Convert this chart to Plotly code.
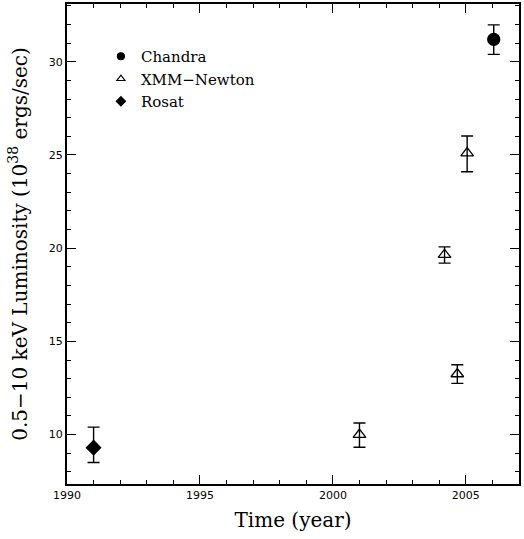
import plotly.graph_objects as go

# Data
chandra_year = [2006.05]
chandra_lum = [31.2]
chandra_err_plus = [0.78]
chandra_err_minus = [0.8]

xmm_year = [2001.0, 2004.2, 2004.68, 2005.05]
xmm_lum = [10.0, 19.65, 13.25, 25.1]
xmm_err_plus = [0.62, 0.42, 0.5, 0.92]
xmm_err_minus = [0.68, 0.45, 0.5, 1.0]

rosat_year = [1991.0]
rosat_lum = [9.3]
rosat_err_plus = [1.1]
rosat_err_minus = [0.8]

x_ticks = [1990, 1995, 2000, 2005]
y_ticks = [10, 15, 20, 25, 30]

title_font = "DejaVu Serif"
sans = "DejaVu Sans"

fig = go.Figure()

def data_trace(x, y, ep, em, symbol, size, fill):
    return go.Scatter(
        x=x, y=y, mode="markers", showlegend=False,
        marker=dict(symbol=symbol, size=size, color=fill,
                    line=dict(color="black", width=1.3)),
        error_y=dict(type="data", symmetric=False, array=ep, arrayminus=em,
                     color="black", thickness=1.4, width=6),
    )

fig.add_trace(data_trace(chandra_year, chandra_lum, chandra_err_plus, chandra_err_minus,
                         "circle", 12, "black"))
fig.add_trace(data_trace(xmm_year, xmm_lum, xmm_err_plus, xmm_err_minus,
                         "triangle-up-open", 11, "black"))
fig.add_trace(data_trace(rosat_year, rosat_lum, rosat_err_plus, rosat_err_minus,
                         "diamond", 11, "black"))

# legend-only entries with small symbols
for name, sym in [("Chandra", "circle"), ("XMM\u2212Newton", "triangle-up-open"), ("Rosat", "diamond")]:
    fig.add_trace(go.Scatter(x=[None], y=[None], mode="markers", name=name,
                             marker=dict(symbol=sym, size=7, color="black",
                                         line=dict(color="black", width=1.2))))

axis_common = dict(
    showgrid=False, zeroline=False, showline=True, linecolor="black", linewidth=2,
    mirror="allticks", ticks="inside", ticklen=9, tickwidth=1.3, tickcolor="black",
    tickfont=dict(family=sans, size=11, color="black"),
)

fig.update_xaxes(
    range=[1990, 2007], tickvals=x_ticks, ticktext=[str(v) for v in x_ticks],
    minor=dict(dtick=1, tick0=1990, ticks="inside", ticklen=4, tickwidth=1.1, tickcolor="black"),
    title=dict(text="Time (year)", font=dict(family=title_font, size=20, color="black"), standoff=12),
    **axis_common,
)
fig.update_yaxes(
    range=[7.35, 33.1], tickvals=y_ticks, ticktext=[str(v) for v in y_ticks],
    minor=dict(dtick=1, tick0=0, ticks="inside", ticklen=4, tickwidth=1.1, tickcolor="black"),
    title=dict(text="0.5\u221210 keV Luminosity (10<sup>38</sup> ergs/sec)",
               font=dict(family=title_font, size=20, color="black"), standoff=16),
    **axis_common,
)

fig.update_layout(
    width=524, height=539,
    margin=dict(l=67, r=5, t=2, b=55),
    paper_bgcolor="white", plot_bgcolor="white",
    legend=dict(x=0.075, y=0.925, xanchor="left", yanchor="top",
                font=dict(family=title_font, size=15, color="black"),
                bgcolor="rgba(0,0,0,0)", itemwidth=30, tracegroupgap=0),
)

fig.write_html(
    "out.html",
    config={"displayModeBar": False},
    post_script="document.body.style.margin='0';document.body.style.overflow='hidden';",
)
